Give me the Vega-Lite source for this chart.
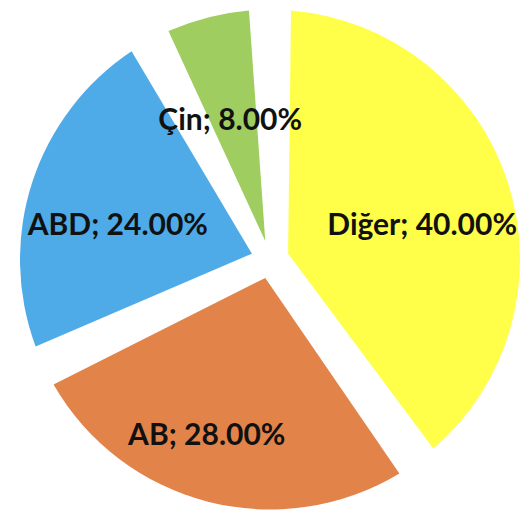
{
  "$schema": "https://vega.github.io/schema/vega-lite/v6.json",
  "width": 500,
  "height": 519,
  "padding": {"left": 20, "top": 0, "right": 0, "bottom": 0},
  "autosize": {"type": "none"},
  "background": "white",
  "view": {"stroke": null},
  "data": {
    "values": [
      {"ulke": "Diğer", "pay": 40, "sira": 1},
      {"ulke": "AB", "pay": 28, "sira": 2},
      {"ulke": "ABD", "pay": 24, "sira": 3},
      {"ulke": "Çin", "pay": 8, "sira": 4}
    ]
  },
  "transform": [
    {"calculate": "datum.ulke + '; ' + format(datum.pay, '.2f') + '%'", "as": "etiket"}
  ],
  "encoding": {
    "theta": {"field": "pay", "type": "quantitative", "stack": true},
    "order": {"field": "sira", "type": "quantitative"}
  },
  "layer": [
    {
      "mark": {"type": "arc", "outerRadius": 250, "innerRadius": 19, "padAngle": 0.168},
      "encoding": {
        "color": {
          "field": "ulke",
          "type": "nominal",
          "scale": {
            "domain": ["Diğer", "AB", "ABD", "Çin"],
            "range": ["#FFFF4A", "#E2834A", "#4FAAE8", "#9FCD5F"]
          },
          "legend": null
        }
      }
    },
    {
      "mark": {"type": "text", "radius": 160, "dy": 16, "font": "Lato", "fontSize": 30, "fontWeight": "bold", "color": "#111111"},
      "encoding": {
        "text": {"condition": {"test": "datum.ulke == 'AB'", "value": ""}, "field": "etiket"}
      }
    },
    {
      "mark": {"type": "text", "radius": 182, "dx": -18, "dy": 0, "font": "Lato", "fontSize": 30, "fontWeight": "bold", "color": "#111111"},
      "encoding": {
        "text": {"condition": {"test": "datum.ulke != 'AB'", "value": ""}, "field": "etiket"}
      }
    }
  ]
}
